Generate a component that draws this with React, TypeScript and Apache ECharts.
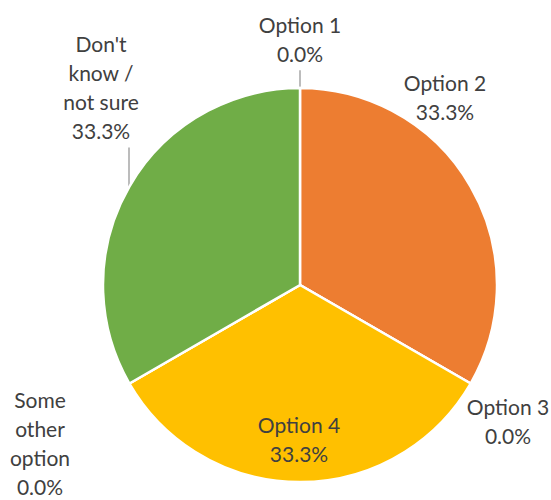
import React, { useEffect, useRef } from "react";
import * as echarts from "echarts";

const categories = ["Option 1", "Option 2", "Option 3", "Option 4", "Some\nother\noption", "Don't\nknow /\nnot sure"];
const values = [0, 1, 0, 1, 0, 1];
const colors = ["#4472C4", "#ED7D31", "#A5A5A5", "#FFC000", "#5B9BD5", "#70AD47"];
// label anchor offsets relative to pie centre (px)
const labelOffsets = [[0, -246], [145, -188], [208, 136], [-1, 154], [-260, 158], [-199, -198]];
const showLine = [true, false, false, false, false, true];

export default function App() {
  const ref = useRef<HTMLDivElement>(null);
  useEffect(() => {
    document.body.style.margin = "0";
    const chart = echarts.init(ref.current!, null, { renderer: "svg" });
    const total = values.reduce((a, b) => a + b, 0);
    const cx = 300, cy = 285, r = 197;
    chart.setOption({
      animation: false,
      series: [
        {
          type: "pie",
          center: [cx, cy],
          radius: r,
          startAngle: 90,
          clockwise: true,
          minShowLabelAngle: 0,
          avoidLabelOverlap: false,
          itemStyle: { borderColor: "#ffffff", borderWidth: 2.5 },
          label: {
            show: true,
            position: "outside",
            color: "#404040",
            fontFamily: "Lato",
            fontSize: 21,
            lineHeight: 29.3,
            align: "center",
            formatter: (p: any) => `${p.name}\n${((p.value / total) * 100).toFixed(1)}%`,
          },
          labelLine: { show: true, lineStyle: { color: "#a6a6a6", width: 1.5 }, length: 10, length2: 0 },
          labelLayout: (params: any) => {
            const i = params.dataIndex;
            const [dx, dy] = labelOffsets[i];
            const x = cx + dx;
            const y = cy + dy;
            const res: any = { x, y, align: "center", verticalAlign: "middle" };
            if (showLine[i]) {
              const top = y + params.labelRect.height / 2;
              const lx = i === 0 ? cx : cx - 171;
              const ly = cy - Math.sqrt(r * r - (lx - cx) * (lx - cx));
              res.labelLinePoints = [[lx, top + 2], [lx, ly], [lx, ly]];
            } else {
              res.labelLinePoints = [[x, y], [x, y], [x, y]];
            }
            return res;
          },
          data: categories.map((name, i) => ({
            name,
            value: values[i],
            itemStyle: { color: colors[i] },
            labelLine: { show: showLine[i] },
          })),
        },
      ],
    });
    return () => chart.dispose();
  }, []);
  return <div ref={ref} style={{ width: 551, height: 500 }} />;
}
